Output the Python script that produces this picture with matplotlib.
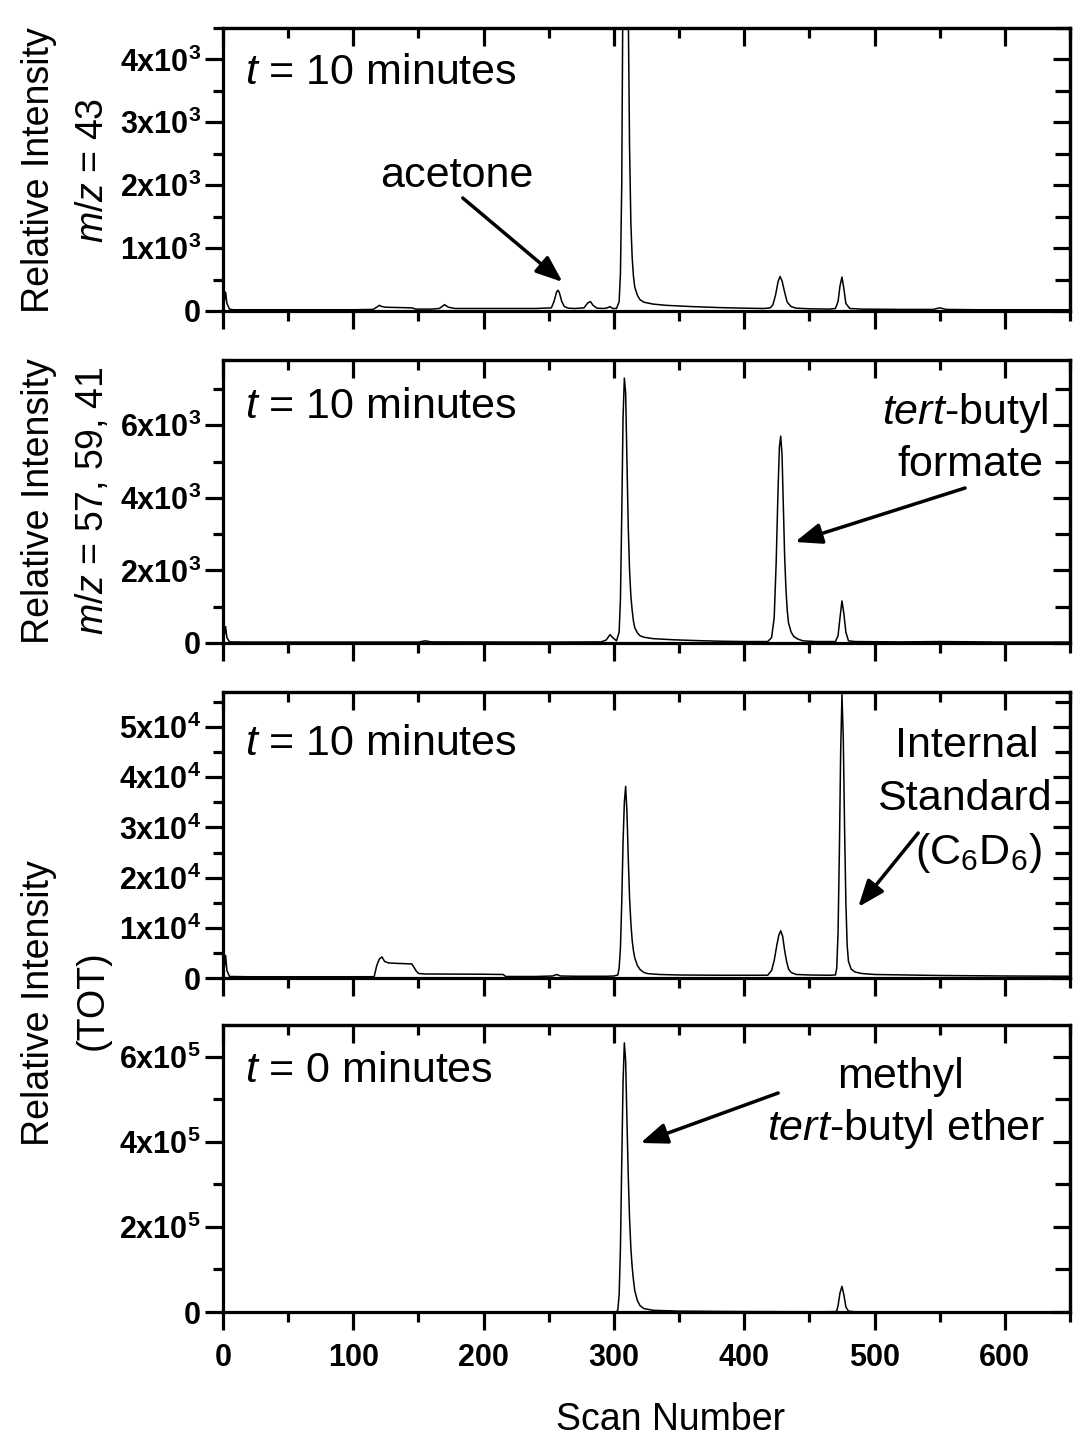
import matplotlib
matplotlib.use("Agg")
import matplotlib.pyplot as plt
from matplotlib.ticker import MultipleLocator

plt.rcParams['font.family'] = ['Liberation Sans', 'DejaVu Sans']
plt.rcParams['mathtext.fontset'] = 'custom'
plt.rcParams['mathtext.rm'] = 'Liberation Sans'
plt.rcParams['mathtext.it'] = 'Liberation Sans:italic'
plt.rcParams['mathtext.bf'] = 'Liberation Sans:bold'

# ---------------- data (scan number, relative intensity) ----------------
scan_mz43 = [0, 1, 2, 3, 5, 8, 20, 60, 100, 115, 118, 120, 122, 125, 135, 145, 148, 160, 166, 170, 173,
             178, 200, 240, 252, 254, 256, 257, 258, 260, 262, 265, 270, 277, 280, 282, 284, 287, 292, 295,
             297, 299, 302, 304, 305, 306, 307, 308, 309, 310, 311, 312, 313, 314, 315, 316, 318, 320, 323,
             330, 340, 360, 380, 400, 415, 420, 422, 424, 426, 427.5, 429, 431, 433, 436, 440, 450, 465, 470,
             472, 473.5, 475, 476.5, 478, 481, 490, 520, 545, 550, 555, 580, 620, 650]
inten_mz43 = [30, 150, 300, 120, 30, 20, 20, 20, 20, 25, 60, 90, 70, 60, 55, 50, 30, 30, 40, 100, 60,
              40, 40, 40, 50, 150, 300, 330, 300, 150, 70, 45, 40, 50, 130, 150, 90, 45, 40, 50,
              70, 40, 40, 150, 600, 2000, 5500, 9500, 11000, 8000, 4800, 2600, 1400, 850, 550, 380, 250, 180, 140,
              110, 90, 70, 55, 45, 40, 50, 100, 250, 470, 550, 480, 300, 140, 70, 45, 35, 30, 40,
              150, 400, 540, 350, 120, 40, 30, 25, 25, 50, 25, 20, 20, 20]

scan_mz57 = [0, 1, 2, 3, 5, 20, 150, 155, 160, 250, 290, 294, 297, 299, 302, 304, 305, 306, 307, 308, 309,
             310, 311, 312, 313, 314, 315, 316, 318, 320, 323, 330, 345, 360, 380, 400, 418, 421, 423, 424.5,
             426, 427, 428, 429, 430, 431, 432, 433, 434, 436, 438, 441, 445, 455, 470, 472, 473.5, 475,
             476.5, 478, 480, 485, 520, 550, 600, 650]
inten_mz57 = [30, 200, 450, 150, 30, 25, 25, 60, 30, 25, 30, 80, 230, 150, 60, 300, 1200, 3500, 6200, 7300, 6900,
              5000, 3200, 2000, 1300, 900, 600, 420, 280, 200, 160, 120, 90, 70, 50, 40, 40, 150, 700, 2200,
              4300, 5400, 5700, 5200, 3800, 2400, 1500, 900, 550, 300, 180, 110, 60, 40, 40, 200, 700, 1160,
              800, 300, 60, 40, 30, 40, 25, 25]

scan_tot10 = [0, 1, 2, 3, 5, 20, 100, 116, 118, 120, 122, 124, 127, 135, 145, 148, 150, 155, 200, 215, 217,
              240, 253, 256, 259, 270, 295, 300, 303, 304, 305, 306, 307, 308, 309, 310, 311, 312, 313, 314,
              315, 316, 318, 320, 323, 326, 335, 350, 380, 400, 418, 421, 423, 425, 426.5, 428, 429.5, 431,
              432.5, 434, 436, 440, 450, 465, 470, 471, 472, 473, 474, 475, 476, 477, 478, 479, 480, 482,
              485, 490, 500, 550, 600, 650]
inten_tot10 = [400, 2000, 4500, 1500, 300, 250, 250, 260, 2500, 3800, 4200, 3300, 3000, 2900, 2800, 1500, 900, 800, 750, 700, 300,
               300, 400, 700, 400, 350, 350, 400, 600, 2000, 6000, 15000, 27000, 35000, 38200, 33000, 24000, 16000, 11000, 7500,
               5400, 4000, 2500, 1700, 1100, 870, 700, 600, 550, 550, 550, 1500, 3500, 6500, 8500, 9400, 8300, 5500,
               3300, 1800, 1100, 700, 600, 550, 600, 2000, 9000, 25000, 45000, 56500, 48000, 30000, 15000, 6500, 3300, 1800,
               1200, 900, 700, 500, 400, 350]

scan_tot0 = [0, 100, 280, 302, 303, 304, 305, 306, 307, 308, 309, 310, 311, 312, 313, 314, 315, 316, 318, 320,
             323, 330, 350, 400, 460, 470, 471, 472, 473.5, 475, 476.5, 478, 480, 485, 550, 650]
inten_tot0 = [0, 0, 0, 0, 5000, 40000, 150000, 350000, 540000, 633000, 590000, 450000, 320000, 220000, 150000,
              106000, 75000, 50000, 27000, 15000, 8000, 4000, 2000, 1000, 500, 1000, 3000, 15000, 45000, 60400,
              40000, 12000, 2000, 500, 300, 200]

ytick_vals_1 = [0, 1000, 2000, 3000, 4000]
ytick_labs_1 = ['0', '1x10$^{\\mathbf{3}}$', '2x10$^{\\mathbf{3}}$', '3x10$^{\\mathbf{3}}$', '4x10$^{\\mathbf{3}}$']
ytick_vals_2 = [0, 2000, 4000, 6000]
ytick_labs_2 = ['0', '2x10$^{\\mathbf{3}}$', '4x10$^{\\mathbf{3}}$', '6x10$^{\\mathbf{3}}$']
ytick_vals_3 = [0, 10000, 20000, 30000, 40000, 50000]
ytick_labs_3 = ['0', '1x10$^{\\mathbf{4}}$', '2x10$^{\\mathbf{4}}$', '3x10$^{\\mathbf{4}}$', '4x10$^{\\mathbf{4}}$', '5x10$^{\\mathbf{4}}$']
ytick_vals_4 = [0, 200000, 400000, 600000]
ytick_labs_4 = ['0', '2x10$^{\\mathbf{5}}$', '4x10$^{\\mathbf{5}}$', '6x10$^{\\mathbf{5}}$']
xtick_vals = [0, 100, 200, 300, 400, 500, 600]
xtick_labs = ['0', '100', '200', '300', '400', '500', '600']

# ---------------- layout ----------------
W, H = 1078, 1441
fig = plt.figure(figsize=(W / 100, H / 100), dpi=100)

def fx(px):
    return px / W

def fy(py):
    return 1 - py / H

left_px, right_px = 223, 1070
panels = [
    (28, 311, scan_mz43, inten_mz43, 4500, ytick_vals_1, ytick_labs_1, 500),
    (360, 643, scan_mz57, inten_mz57, 7800, ytick_vals_2, ytick_labs_2, 1000),
    (692, 978, scan_tot10, inten_tot10, 57000, ytick_vals_3, ytick_labs_3, 5000),
    (1025, 1312, scan_tot0, inten_tot0, 675000, ytick_vals_4, ytick_labs_4, 100000),
]

axes = []
TW = 2.3
MAJ, MIN = 13, 7
for i, (top, bot, xs, ys, ymax, yv, yl, ymin_step) in enumerate(panels):
    ax = fig.add_axes([fx(left_px), fy(bot), fx(right_px) - fx(left_px), (bot - top) / H])
    ax.plot(xs, ys, color='black', lw=1.1)
    ax.set_xlim(0, 650)
    ax.set_ylim(0, ymax)
    for s in ax.spines.values():
        s.set_linewidth(TW)
    ax.set_xticks(xtick_vals)
    ax.xaxis.set_minor_locator(MultipleLocator(50))
    ax.set_yticks(yv)
    ax.set_yticklabels(yl, fontweight='bold', fontsize=22)
    ax.yaxis.set_minor_locator(MultipleLocator(ymin_step))
    ax.tick_params(axis='both', which='major', direction='out', length=MAJ, width=TW, pad=3)
    ax.tick_params(axis='both', which='minor', direction='out', length=MIN, width=TW)
    if i == 3:
        ax.set_xticklabels(xtick_labs, fontweight='bold', fontsize=22)
        ax.tick_params(axis='x', which='major', pad=9)
    else:
        ax.tick_params(axis='x', labelbottom=False)
    secx = ax.secondary_xaxis('top')
    secx.set_xticks(xtick_vals)
    secx.xaxis.set_minor_locator(MultipleLocator(50))
    secx.tick_params(axis='x', which='major', direction='in', length=MAJ, width=TW, labeltop=False)
    secx.tick_params(axis='x', which='minor', direction='in', length=MIN, width=TW)
    secx.spines['top'].set_linewidth(TW)
    secy = ax.secondary_yaxis('right')
    secy.set_yticks(yv)
    secy.yaxis.set_minor_locator(MultipleLocator(ymin_step))
    secy.tick_params(axis='y', which='major', direction='in', length=12, width=TW, labelright=False)
    secy.tick_params(axis='y', which='minor', direction='in', length=11, width=TW)
    secy.spines['right'].set_linewidth(TW)
    axes.append(ax)

# ---------------- axis labels ----------------
LS = 27
fig.text(fx(39), fy(170), 'Relative Intensity', rotation=90, ha='center', va='center', fontsize=LS)
fig.text(fx(93), fy(170), '$m/z$ = 43', rotation=90, ha='center', va='center', fontsize=LS)
fig.text(fx(39), fy(501), 'Relative Intensity', rotation=90, ha='center', va='center', fontsize=LS)
fig.text(fx(93), fy(501), '$m/z$ = 57, 59, 41', rotation=90, ha='center', va='center', fontsize=LS)
fig.text(fx(39), fy(1003), 'Relative Intensity', rotation=90, ha='center', va='center', fontsize=LS)
fig.text(fx(93), fy(1000), '(TOT)', rotation=90, ha='center', va='center', fontsize=LS)
fig.text(fx(670), fy(1420), 'Scan Number', ha='center', va='center', fontsize=LS)

# ---------------- annotations ----------------
AS = 31
fig.text(fx(245), fy(84), '$t$ = 10 minutes', ha='left', va='baseline', fontsize=AS)
fig.text(fx(245), fy(418), '$t$ = 10 minutes', ha='left', va='baseline', fontsize=AS)
fig.text(fx(245), fy(755), '$t$ = 10 minutes', ha='left', va='baseline', fontsize=AS)
fig.text(fx(245), fy(1082), '$t$ = 0 minutes', ha='left', va='baseline', fontsize=AS)

fig.text(fx(457), fy(187), 'acetone', ha='center', va='baseline', fontsize=AS)
fig.text(fx(965), fy(424), '$tert$-butyl', ha='center', va='baseline', fontsize=AS)
fig.text(fx(970), fy(476), 'formate', ha='center', va='baseline', fontsize=AS)
fig.text(fx(967), fy(757), 'Internal', ha='center', va='baseline', fontsize=AS)
fig.text(fx(964), fy(810), 'Standard', ha='center', va='baseline', fontsize=AS)
fig.text(fx(978), fy(864), '(C$_{6}$D$_{6}$)', ha='center', va='baseline', fontsize=AS)
fig.text(fx(900), fy(1088), 'methyl', ha='center', va='baseline', fontsize=AS)
fig.text(fx(906), fy(1140), '$tert$-butyl ether', ha='center', va='baseline', fontsize=AS)

arrow_kw = dict(arrowstyle='-|>,head_length=0.9,head_width=0.35', color='black', lw=2.5,
                shrinkA=0, shrinkB=0, mutation_scale=18)
axes[0].annotate('', xy=(260.6, 461), xytext=(184, 1797), arrowprops=arrow_kw)
axes[1].annotate('', xy=(439, 2784), xytext=(569.5, 4272), arrowprops=arrow_kw)
axes[2].annotate('', xy=(487.5, 14150), xytext=(533.5, 28900), arrowprops=arrow_kw)
axes[3].annotate('', xy=(320.4, 397500), xytext=(426, 515000), arrowprops=arrow_kw)

fig.savefig('out.png', dpi=100)
